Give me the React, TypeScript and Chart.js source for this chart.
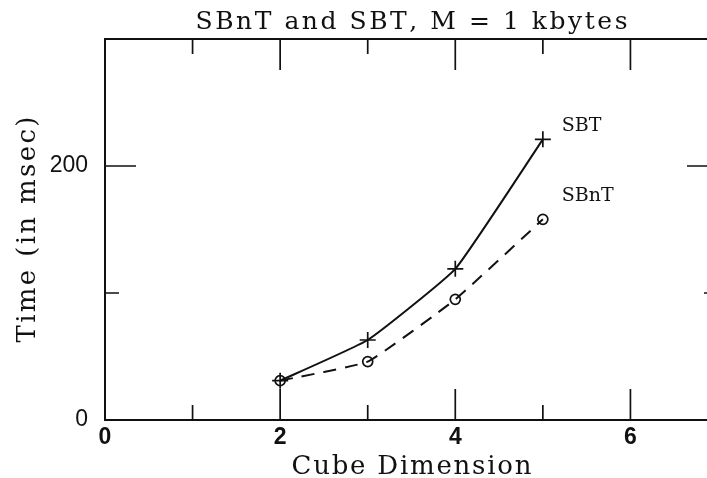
import React, { useEffect, useRef } from "react";
import { Chart, registerables } from "chart.js";

Chart.register(...registerables);

// ---- data ----
const cubeDims = [2, 3, 4, 5];
const sbtTimes = [31, 63, 119, 221];
const sbntTimes = [31, 46, 95, 158];
const seriesNames = ["SBT", "SBnT"];

const xTickValues = [0, 1, 2, 3, 4, 5, 6, 7];
const xTickLabels = ["0", "", "2", "", "4", "", "6", ""];
const yTickValues = [0, 100, 200, 300];
const yTickLabels = ["0", "", "200", ""];

const titleText = "SBnT and SBT, M = 1 kbytes";
const xTitleText = "Cube Dimension";
const yTitleText = "Time (in msec)";

const INK = "#111";
const SERIF = "'DejaVu Serif', serif";
const SANS = "'Liberation Sans', Arial, sans-serif";

function drawSpaced(ctx: CanvasRenderingContext2D, text: string, cx: number, y: number, target: number) {
  const chars = Array.from(text);
  const widths = chars.map((c) => ctx.measureText(c).width);
  const total = widths.reduce((a, b) => a + b, 0);
  const gap = chars.length > 1 ? (target - total) / (chars.length - 1) : 0;
  let x = cx - target / 2;
  ctx.textAlign = "left";
  chars.forEach((c, i) => {
    ctx.fillText(c, x, y);
    x += widths[i] + gap;
  });
}

const frame = {
  id: "frame",
  beforeDatasetsDraw(chart: any) {
    const { ctx, chartArea: a, scales } = chart;
    const xs = scales.x;
    const ys = scales.y;
    ctx.save();
    ctx.strokeStyle = INK;
    ctx.lineWidth = 2;
    ctx.strokeRect(a.left, a.top, a.right - a.left, a.bottom - a.top);
    ctx.lineWidth = 1.7;
    ctx.beginPath();
    xTickValues.forEach((v, i) => {
      const px = xs.getPixelForValue(v);
      const len = xTickLabels[i] !== "" ? 31 : 15;
      ctx.moveTo(px, a.bottom);
      ctx.lineTo(px, a.bottom - len);
      ctx.moveTo(px, a.top);
      ctx.lineTo(px, a.top + len);
    });
    yTickValues.forEach((v, i) => {
      const py = ys.getPixelForValue(v);
      const len = yTickLabels[i] !== "" ? 31 : 14;
      ctx.moveTo(a.left, py);
      ctx.lineTo(a.left + len, py);
      ctx.moveTo(a.right, py);
      ctx.lineTo(a.right - len, py);
    });
    ctx.stroke();
    ctx.restore();
  },
  afterDraw(chart: any) {
    const { ctx, chartArea: a, scales } = chart;
    const xs = scales.x;
    const ys = scales.y;
    const cx = (a.left + a.right) / 2;
    const cy = (a.top + a.bottom) / 2;
    ctx.save();
    ctx.fillStyle = INK;
    ctx.textBaseline = "alphabetic";
    // title
    ctx.font = `25px ${SERIF}`;
    drawSpaced(ctx, titleText, cx, a.top - 10, 432);
    // x title
    ctx.font = `26px ${SERIF}`;
    drawSpaced(ctx, xTitleText, cx, a.bottom + 54, 240);
    // y title
    ctx.save();
    ctx.translate(a.left - 70, cy);
    ctx.rotate(-Math.PI / 2);
    drawSpaced(ctx, yTitleText, 0, 0, 226);
    ctx.restore();
    // series labels
    ctx.font = `19px ${SERIF}`;
    ctx.textAlign = "left";
    const lastX = cubeDims[cubeDims.length - 1];
    const lx = xs.getPixelForValue(lastX) + 19;
    ctx.fillText(seriesNames[0], lx, ys.getPixelForValue(sbtTimes[sbtTimes.length - 1]) - 8);
    ctx.fillText(seriesNames[1], lx, ys.getPixelForValue(sbntTimes[sbntTimes.length - 1]) - 18);
    ctx.restore();
  },
};

export default function App() {
  const ref = useRef<HTMLCanvasElement | null>(null);
  useEffect(() => {
    document.body.style.margin = "0";
    const canvas = ref.current!;
    const chart = new Chart(canvas, {
      type: "line",
      data: {
        datasets: [
          {
            label: seriesNames[0],
            data: cubeDims.map((d, i) => ({ x: d, y: sbtTimes[i] })),
            borderColor: INK,
            borderWidth: 2,
            pointStyle: "cross",
            pointRadius: 8,
            pointBorderWidth: 1.7,
            pointBorderColor: INK,
            pointBackgroundColor: "rgba(0,0,0,0)",
            tension: 0.12,
            fill: false,
          },
          {
            label: seriesNames[1],
            data: cubeDims.map((d, i) => ({ x: d, y: sbntTimes[i] })),
            borderColor: INK,
            borderWidth: 2,
            borderDash: [13, 9],
            pointStyle: "circle",
            pointRadius: 5,
            pointBorderWidth: 1.7,
            pointBorderColor: INK,
            pointBackgroundColor: "rgba(0,0,0,0)",
            tension: 0.12,
            fill: false,
          },
        ],
      },
      options: {
        animation: false,
        responsive: false,
        maintainAspectRatio: false,
        layout: { padding: { top: 39, right: 42, left: 0, bottom: 0 } },
        plugins: {
          legend: { display: false },
          tooltip: { enabled: false },
          title: { display: false },
        },
        scales: {
          x: {
            type: "linear",
            min: 0,
            max: 7,
            grid: { display: false, drawTicks: false },
            border: { display: false },
            afterBuildTicks: (s: any) => {
              s.ticks = xTickValues.map((v) => ({ value: v }));
            },
            afterFit: (s: any) => {
              s.height = 58;
            },
            ticks: {
              autoSkip: false,
              maxRotation: 0,
              padding: 4,
              color: INK,
              font: { family: SANS, size: 23, weight: "bold" },
              callback: (v: any) => xTickLabels[xTickValues.indexOf(Number(v))] ?? "",
            },
          },
          y: {
            type: "linear",
            min: 0,
            max: 300,
            grid: { display: false, drawTicks: false },
            border: { display: false },
            afterBuildTicks: (s: any) => {
              s.ticks = yTickValues.map((v) => ({ value: v }));
            },
            afterFit: (s: any) => {
              s.width = 105;
            },
            ticks: {
              padding: 17,
              color: INK,
              font: { family: SANS, size: 23 },
              callback: (v: any) => yTickLabels[yTickValues.indexOf(Number(v))] ?? "",
            },
          },
        },
      },
      plugins: [frame],
    } as any);
    return () => chart.destroy();
  }, []);
  return (
    <div
      style={{
        position: "fixed",
        left: 0,
        top: 0,
        width: 707,
        height: 478,
        overflow: "hidden",
        background: "#fff",
      }}
    >
      <canvas ref={ref} width={760} height={478} style={{ width: 760, height: 478, display: "block" }} />
    </div>
  );
}
